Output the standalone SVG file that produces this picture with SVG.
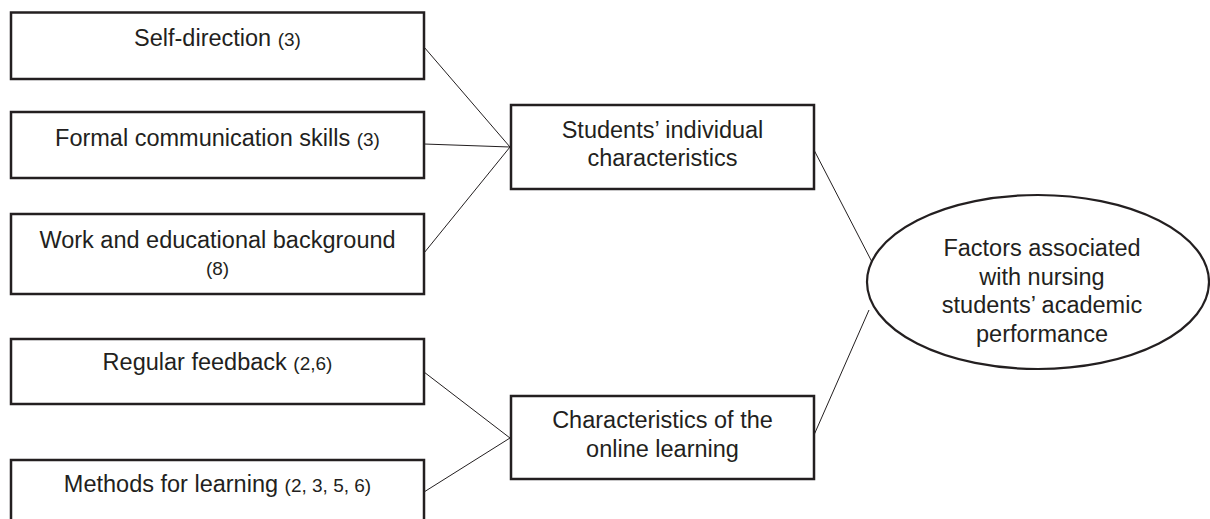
<svg xmlns="http://www.w3.org/2000/svg" width="1210" height="519" viewBox="0 0 1210 519">
<style>
.box{fill:#fff;stroke:#231f20;stroke-width:2.5}
.ell{fill:#fff;stroke:#231f20;stroke-width:2.2}
.t{font-family:"Liberation Sans",Arial,sans-serif;font-size:23.5px;fill:#231f20;text-anchor:middle}
.s{font-size:19px}
#connectors line{stroke:#231f20;stroke-width:1}
</style>
<rect width="1210" height="519" fill="#fff"/>
<g id="connectors">
<line x1="424" y1="47" x2="510" y2="147"/>
<line x1="424" y1="144" x2="510" y2="147"/>
<line x1="424" y1="253" x2="510" y2="147"/>
<line x1="424" y1="372" x2="510" y2="438"/>
<line x1="424" y1="492" x2="510" y2="438"/>
<line x1="814" y1="150" x2="872" y2="262"/>
<line x1="814" y1="435" x2="869" y2="310"/>
</g>
<g id="self-direction">
<rect class="box" x="11" y="12.5" width="413" height="66.5"/>
<text class="t" x="217.5" y="46">Self-direction <tspan class="s">(3)</tspan></text>
</g>
<g id="formal-communication">
<rect class="box" x="11" y="112" width="413" height="66"/>
<text class="t" x="217.5" y="145.5">Formal communication skills <tspan class="s">(3)</tspan></text>
</g>
<g id="work-background">
<rect class="box" x="11" y="214" width="413" height="80"/>
<text class="t" x="217.5" y="248">Work and educational background</text>
<text class="t s" x="217.5" y="275">(8)</text>
</g>
<g id="regular-feedback">
<rect class="box" x="11" y="339" width="413" height="65"/>
<text class="t" x="217.5" y="370">Regular feedback <tspan class="s">(2,6)</tspan></text>
</g>
<g id="methods-learning">
<rect class="box" x="11" y="460" width="413" height="66"/>
<text class="t" x="217.5" y="492">Methods for learning <tspan class="s">(2, 3, 5, 6)</tspan></text>
</g>
<g id="students-characteristics">
<rect class="box" x="511" y="105" width="303" height="84"/>
<text class="t" x="662.5" y="137.5">Students’ individual</text>
<text class="t" x="662.5" y="166">characteristics</text>
</g>
<g id="online-learning">
<rect class="box" x="511" y="396" width="303" height="83"/>
<text class="t" x="662.5" y="428">Characteristics of the</text>
<text class="t" x="662.5" y="457">online learning</text>
</g>
<g id="factors">
<ellipse class="ell" cx="1038" cy="282" rx="171" ry="87"/>
<text class="t" x="1042" y="256">Factors associated</text>
<text class="t" x="1042" y="284.5">with nursing</text>
<text class="t" x="1042" y="313">students’ academic</text>
<text class="t" x="1042" y="341.5">performance</text>
</g>
</svg>
